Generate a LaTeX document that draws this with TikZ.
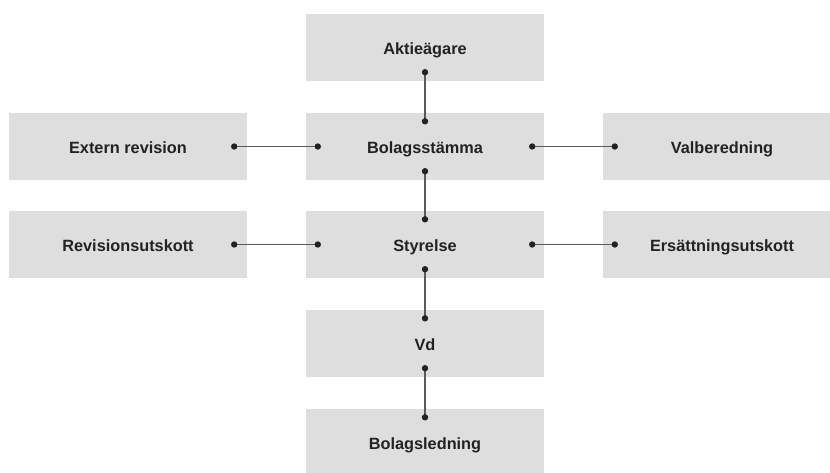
\documentclass[tikz,border=0pt]{standalone}
\usepackage{fontspec}
\setmainfont{Liberation Sans}
\definecolor{boxgray}{HTML}{DEDEDE}
\definecolor{txt}{HTML}{222222}
\definecolor{linegray}{HTML}{5A5A5A}
\definecolor{dotc}{HTML}{222222}
\begin{document}
\begin{tikzpicture}[x=1pt,y=-1pt,
  orgbox/.style={fill=boxgray,draw=none,minimum width=238pt,minimum height=67pt,inner sep=0pt,
    text=txt,font=\fontsize{16.3}{19}\selectfont\bfseries,text height=15pt,text depth=0.3pt},
  conn/.style={draw=linegray,line width=1.2pt},
  dotm/.style={circle,fill=dotc,minimum size=6.4pt,inner sep=0pt}]
\useasboundingbox (0,0) rectangle (830,473);
\clip (0,0) rectangle (830,473);
\node[orgbox] (akt) at (425,47.5) {Aktieägare};
\node[orgbox] (bol) at (425,146.5) {Bolagsstämma};
\node[orgbox] (ext) at (128,146.5) {Extern revision};
\node[orgbox] (val) at (722,146.5) {Valberedning};
\node[orgbox] (sty) at (425,244.5) {Styrelse};
\node[orgbox] (rev) at (128,244.5) {Revisionsutskott};
\node[orgbox] (ers) at (722,244.5) {Ersättningsutskott};
\node[orgbox] (vd) at (425,343.5) {Vd};
\node[orgbox] (led) at (425,442.5) {Bolagsledning};
% connection points
\coordinate (aktS) at ([yshift=9pt]akt.south);
\coordinate (bolN) at ([yshift=-8.5pt]bol.north);
\coordinate (bolS) at ([yshift=9pt]bol.south);
\coordinate (bolW) at ([xshift=12pt]bol.west);
\coordinate (bolE) at ([xshift=-12pt]bol.east);
\coordinate (extE) at ([xshift=-13pt]ext.east);
\coordinate (valW) at ([xshift=12pt]val.west);
\coordinate (styN) at ([yshift=-8.5pt]sty.north);
\coordinate (styS) at ([yshift=9pt]sty.south);
\coordinate (styW) at ([xshift=12pt]sty.west);
\coordinate (styE) at ([xshift=-12pt]sty.east);
\coordinate (revE) at ([xshift=-13pt]rev.east);
\coordinate (ersW) at ([xshift=12pt]ers.west);
\coordinate (vdN) at ([yshift=-8.5pt]vd.north);
\coordinate (vdS) at ([yshift=9pt]vd.south);
\coordinate (ledN) at ([yshift=-8.5pt]led.north);
\draw[conn] (aktS) -- (bolN);
\draw[conn] (bolS) -- (styN);
\draw[conn] (extE) -- (bolW);
\draw[conn] (bolE) -- (valW);
\draw[conn] (revE) -- (styW);
\draw[conn] (styE) -- (ersW);
\draw[conn] (styS) -- (vdN);
\draw[conn] (vdS) -- (ledN);
\foreach \p in {aktS,bolN,bolS,bolW,bolE,extE,valW,styN,styS,styW,styE,revE,ersW,vdN,vdS,ledN}
  \node[dotm] at (\p) {};
\end{tikzpicture}
\end{document}
